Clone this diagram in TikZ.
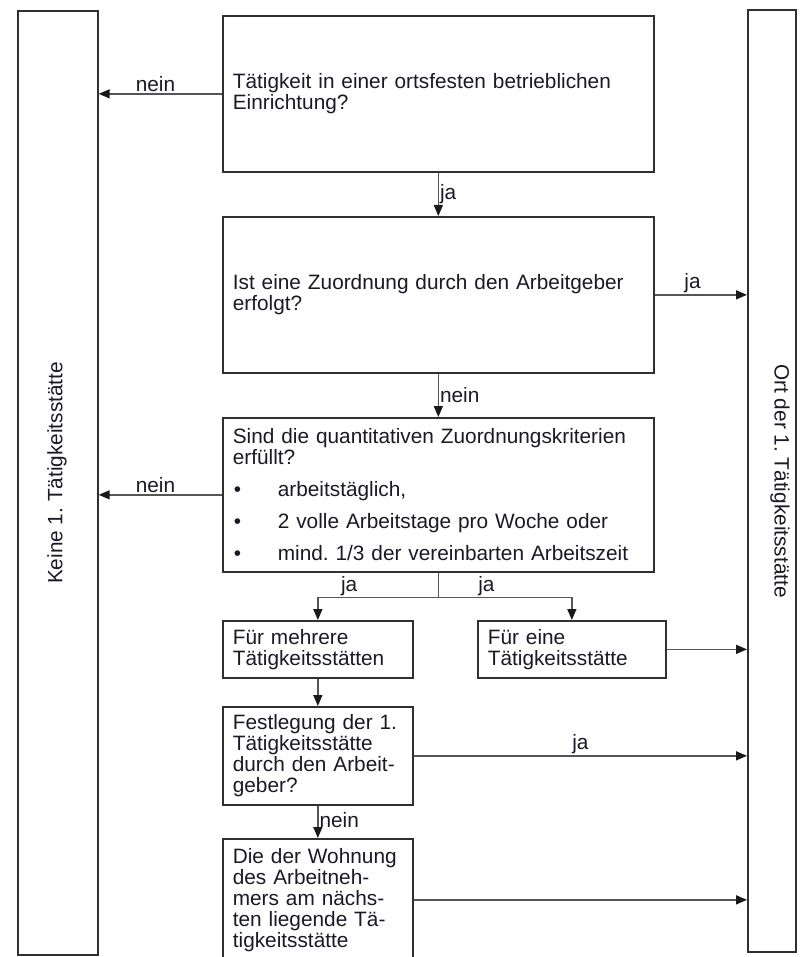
\documentclass[tikz,border=0pt]{standalone}
\usepackage{fontspec}
\setmainfont{Liberation Sans}
\usetikzlibrary{arrows.meta,calc}
\definecolor{boxc}{HTML}{303030}
\definecolor{linec}{HTML}{555555}
\definecolor{txtc}{HTML}{1A1A26}
\frenchspacing
\begin{document}
\begin{tikzpicture}[x=1pt,y=1pt,
  font=\fontsize{20.8pt}{21pt}\selectfont,
  every node/.style={text=txtc},
  box/.style={draw=boxc, line width=1.7pt, anchor=north west, align=left, inner xsep=10pt, inner ysep=0pt},
  arr/.style={draw=linec, line width=1.5pt, -{Triangle[length=11pt,width=9pt,color=black!90]}},
  conn/.style={draw=linec, line width=1.5pt},
  lbl/.style={inner sep=1pt}]
\useasboundingbox (0,0) rectangle (807,-957);
\fill[white] (0,0) rectangle (807,-957);
\clip (0,0) rectangle (807,-957);

% side boxes
\node[box, minimum width=80pt, minimum height=944pt] (L) at (17,-10) {};
\node[rotate=90] (Lt) at (57,-473) {Keine 1. Tätigkeitsstätte};
\node[box, minimum width=48pt, minimum height=942pt] (R) at (747,-9) {};
\node[rotate=-90] (Rt) at (780,-481) {Ort der 1. Tätigkeitsstätte};

% main boxes
\node[box, minimum width=431pt, minimum height=156pt, text width=411pt] (b1) at (222,-15)
  {Tätigkeit in einer ortsfesten betrieblichen\\Einrichtung?};
\node[box, minimum width=431pt, minimum height=156pt, text width=411pt] (b2) at (222,-216)
  {Ist eine Zuordnung durch den Arbeitgeber\\erfolgt?};
\node[box, minimum width=431pt, minimum height=154pt, text width=411pt] (b3) at (222,-417)
  {Sind die quantitativen Zuordnungskriterien\\erfüllt?\\[11pt]
   \makebox[45pt][l]{\hspace{1pt}\textbullet}arbeitstäglich,\\[11pt]
   \makebox[45pt][l]{\hspace{1pt}\textbullet}2 volle Arbeitstage pro Woche oder\\[11pt]
   \makebox[45pt][l]{\hspace{1pt}\textbullet}mind. 1/3 der vereinbarten Arbeitszeit};
\node[box, minimum width=190pt, minimum height=57pt, text width=170pt] (b4) at (222,-620)
  {Für mehrere\\Tätigkeitsstätten};
\node[box, minimum width=188pt, minimum height=57pt, text width=168pt] (b5) at (477,-620)
  {Für eine\\Tätigkeitsstätte};
\node[box, minimum width=190pt, minimum height=98pt, text width=170pt] (b6) at (222,-706)
  {Festlegung der 1.\\Tätigkeitsstätte\\durch den Arbeit-\\geber?};
\node[box, minimum width=190pt, minimum height=122pt, text width=170pt] (b7) at (222,-838)
  {Die der Wohnung\\des Arbeitneh-\\mers am nächs-\\ten liegende Tä-\\tigkeitsstätte};

% connectors
\draw[arr] (b1.west) -- (b1.west -| L.east) node[lbl, above, pos=0.54] {nein};
\draw[arr] (b1.south) -- (b2.north) node[lbl, right, midway] {ja};
\draw[arr] (b2.east) -- (b2.east -| R.west) node[lbl, above, pos=0.41] {ja};
\draw[arr] (b2.south) -- (b3.north) node[lbl, right, midway] {nein};
\draw[arr] (b3.west) -- (b3.west -| L.east) node[lbl, above, pos=0.54] {nein};
\coordinate (sp) at ($(b3.south)+(0,-25)$);
\draw[conn] (b3.south) -- (sp);
\draw[arr] (sp) -| (b4.north) node[lbl, above, pos=0.37] {ja};
\draw[arr] (sp) -| (b5.north) node[lbl, above, pos=0.18] {ja};
\draw[arr] (b5.east) -- (b5.east -| R.west);
\draw[arr] (b4.south) -- (b6.north);
\draw[arr] (b6.east) -- (b6.east -| R.west) node[lbl, above, midway] {ja};
\draw[arr] (b6.south) -- (b7.north) node[lbl, right, pos=0.45] {nein};
\draw[arr] (b7.east) -- (b7.east -| R.west);
\end{tikzpicture}
\end{document}
